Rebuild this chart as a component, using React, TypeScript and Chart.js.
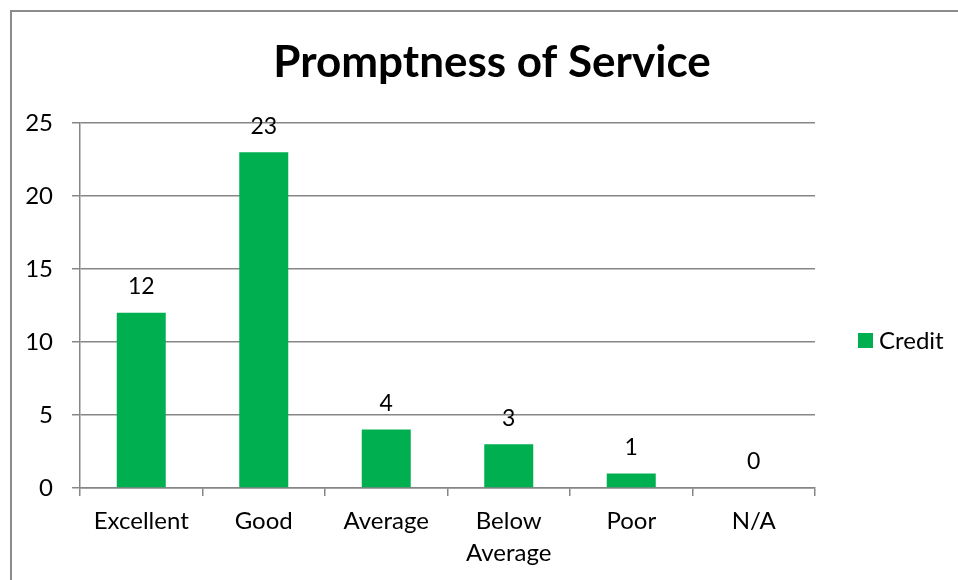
import React, { useEffect, useRef } from "react";
import { Chart, registerables } from "chart.js";

Chart.register(...registerables);

const categories: (string | string[])[] = ["Excellent", "Good", "Average", ["Below", "Average"], "Poor", "N/A"];
const creditValues: number[] = [12, 23, 4, 3, 1, 0];
const seriesName = "Credit";
const chartTitle = "Promptness of Service";

const GREEN = "#00B050";
const GRID = "#868686";
const FONT = "Lato, Carlito, Calibri, sans-serif";

const decorPlugin = {
  id: "decor",
  beforeDraw(chart: any) {
    const ctx = chart.ctx;
    ctx.save();
    ctx.strokeStyle = "#8c8c8c";
    ctx.lineWidth = 2;
    ctx.beginPath();
    ctx.moveTo(11, chart.height + 5);
    ctx.lineTo(11, 11);
    ctx.lineTo(chart.width + 5, 11);
    ctx.stroke();
    ctx.restore();
  },
  afterDatasetsDraw(chart: any) {
    const ctx = chart.ctx;
    const meta = chart.getDatasetMeta(0);
    ctx.save();
    ctx.font = `23px ${FONT}`;
    ctx.fillStyle = "#000";
    ctx.textAlign = "center";
    ctx.textBaseline = "middle";
    meta.data.forEach((bar: any, i: number) => {
      ctx.fillText(String(creditValues[i]), bar.x, bar.y - 26);
    });
    ctx.restore();
  },
  afterDraw(chart: any) {
    const ctx = chart.ctx;
    ctx.save();
    ctx.fillStyle = "#000";
    ctx.font = `bold 44px ${FONT}`;
    ctx.textAlign = "center";
    ctx.textBaseline = "middle";
    ctx.fillText(chartTitle, 492, 63);
    // legend
    ctx.fillStyle = GREEN;
    ctx.fillRect(858, 333, 15, 15);
    ctx.fillStyle = "#000";
    ctx.font = `24px ${FONT}`;
    ctx.textAlign = "left";
    ctx.fillText(seriesName, 879, 341);
    ctx.restore();
  },
};

export default function App() {
  const ref = useRef<HTMLCanvasElement | null>(null);
  useEffect(() => {
    if (!ref.current) return;
    const chart = new Chart(ref.current, {
      type: "bar",
      data: {
        labels: categories,
        datasets: [
          {
            label: seriesName,
            data: creditValues,
            backgroundColor: GREEN,
            borderWidth: 0,
            barPercentage: 0.4,
            categoryPercentage: 1,
          },
        ],
      },
      options: {
        animation: false,
        responsive: false,
        layout: { padding: { left: 0, top: 123, right: 143, bottom: 0 } },
        plugins: {
          legend: { display: false },
          title: { display: false },
          tooltip: { enabled: false },
        },
        scales: {
          x: {
            grid: {
              display: true,
              drawOnChartArea: false,
              drawTicks: true,
              tickLength: 8,
              color: GRID,
              lineWidth: 1.5,
              offset: true,
            },
            border: { color: GRID, width: 1.5 },
            ticks: {
              color: "#000",
              font: { family: FONT, size: 24, lineHeight: 1.35 },
              padding: 9,
              maxRotation: 0,
              autoSkip: false,
            },
            afterFit: (s: any) => {
              s.height = 92;
            },
          },
          y: {
            min: 0,
            max: 25,
            ticks: {
              stepSize: 5,
              color: "#000",
              font: { family: FONT, size: 24 },
              padding: 19,
            },
            grid: { color: GRID, lineWidth: 1.5, tickLength: 8 },
            border: { color: GRID, width: 1.5 },
            afterFit: (s: any) => {
              s.width = 80;
            },
          },
        },
      },
      plugins: [decorPlugin],
    });
    return () => chart.destroy();
  }, []);
  return (
    <div style={{ position: "absolute", left: 0, top: 0, width: 958, height: 580, background: "#fff", overflow: "hidden" }}>
      <canvas ref={ref} width={958} height={580} style={{ width: 958, height: 580, display: "block" }} />
    </div>
  );
}
